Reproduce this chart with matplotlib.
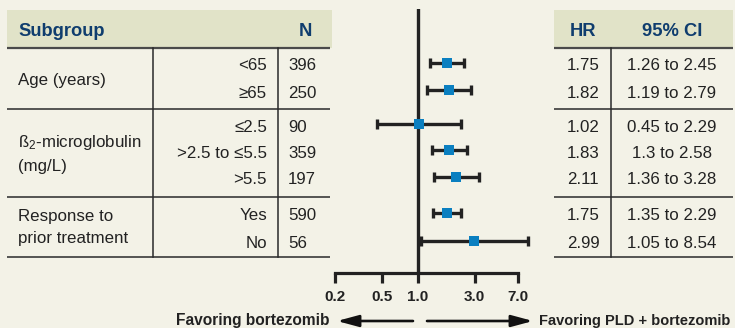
import matplotlib
matplotlib.use("Agg")
import matplotlib.pyplot as plt
import numpy as np

# ---- data ----
groups = ["Age (years)", "ß$_2$-microglobulin\n(mg/L)", "Response to\nprior treatment"]
subgroups = ["<65", "≥65", "≤2.5", ">2.5 to ≤5.5", ">5.5", "Yes", "No"]
n_vals = [396, 250, 90, 359, 197, 590, 56]
hr = [1.75, 1.82, 1.02, 1.83, 2.11, 1.75, 2.99]
ci_low = [1.26, 1.19, 0.45, 1.30, 1.36, 1.35, 1.05]
ci_high = [2.45, 2.79, 2.29, 2.58, 3.28, 2.29, 8.54]
ci_text = ["1.26 to 2.45", "1.19 to 2.79", "0.45 to 2.29", "1.3 to 2.58",
           "1.36 to 3.28", "1.35 to 2.29", "1.05 to 8.54"]
xticks = [0.2, 0.5, 1.0, 3.0, 7.0]
xtick_labels = ["0.2", "0.5", "1.0", "3.0", "7.0"]
left_label = "Favoring bortezomib"
right_label = "Favoring PLD + bortezomib"

# ---- layout (pixels) ----
W, H = 735, 328
row_y = [63, 90, 124, 150, 177, 213, 241]
group_y = [[81], [143, 166], [217, 239]]
BG = "#f3f2e7"
BAND = "#e1e3c8"
NAVY = "#0f3d6e"
TXT = "#222222"
FONT = "Liberation Sans"

plt.rcParams["font.family"] = [FONT, "DejaVu Sans"]
plt.rcParams["mathtext.fontset"] = "custom"
plt.rcParams["mathtext.rm"] = FONT
plt.rcParams["mathtext.it"] = FONT

fig = plt.figure(figsize=(W / 100, H / 100), dpi=100, facecolor=BG)

# full-figure axes for table
tab = fig.add_axes([0, 0, 1, 1])
tab.set_xlim(0, W)
tab.set_ylim(H, 0)
tab.axis("off")
tab.set_facecolor(BG)

fs = 12.2
# header bands
tab.add_patch(plt.Rectangle((7, 10), 325, 38, color=BAND, lw=0))
tab.add_patch(plt.Rectangle((554, 10), 733 - 554, 38, color=BAND, lw=0))
for x0, x1 in [(7, 330), (554, 733)]:
    tab.plot([x0, x1], [48, 48], color="#4a4a4a", lw=1.6, solid_capstyle="butt")
    for yy in [109, 197, 257]:
        tab.plot([x0, x1], [yy, yy], color="#2a2a2a", lw=1.1, solid_capstyle="butt")
for xx in [153, 278]:
    tab.plot([xx, xx], [48, 257], color="#2a2a2a", lw=1.1)
tab.plot([611, 611], [48, 257], color="#2a2a2a", lw=1.1)

hfs = 13.2
tab.text(18, 31, "Subgroup", color=NAVY, fontsize=hfs, fontweight="bold", va="center", ha="left")
tab.text(305, 31, "N", color=NAVY, fontsize=hfs, fontweight="bold", va="center", ha="center")
tab.text(583, 31, "HR", color=NAVY, fontsize=hfs, fontweight="bold", va="center", ha="center")
tab.text(672, 31, "95% CI", color=NAVY, fontsize=hfs, fontweight="bold", va="center", ha="center")

for gi, g in enumerate(groups):
    lines = g.split("\n")
    for li, ln in enumerate(lines):
        tab.text(18, group_y[gi][li], ln, fontsize=fs, color=TXT, va="center", ha="left")

for i in range(len(subgroups)):
    ty = row_y[i] + 3
    tab.text(267, ty, subgroups[i], fontsize=fs, color=TXT, va="center", ha="right")
    tab.text(288, ty, str(n_vals[i]), fontsize=fs, color=TXT, va="center", ha="left")
    tab.text(583, ty, f"{hr[i]:.2f}", fontsize=fs, color=TXT, va="center", ha="center")
    tab.text(672, ty, ci_text[i], fontsize=fs, color=TXT, va="center", ha="center")

# forest axes
x_left_px, x_right_px, one_px, scale = 330, 540, 418, 51.5
top_px, bot_px = 9, 273
ax = fig.add_axes([x_left_px / W, 1 - bot_px / H, (x_right_px - x_left_px) / W, (bot_px - top_px) / H])
ax.patch.set_alpha(0)
ax.set_xscale("log")
ax.set_xlim(np.exp(-(one_px - x_left_px) / scale), np.exp((x_right_px - one_px) / scale))
ax.set_ylim(bot_px, top_px)
for s in ["top", "left", "right"]:
    ax.spines[s].set_visible(False)
ax.spines["bottom"].set_bounds(xticks[0], xticks[-1])
ax.spines["bottom"].set_linewidth(2.3)
ax.spines["bottom"].set_color("#222222")
ax.set_xticks(xticks)
ax.set_xticklabels(xtick_labels, fontsize=11, fontweight="bold", color="#222222")
ax.xaxis.set_minor_locator(matplotlib.ticker.NullLocator())
ax.tick_params(axis="x", direction="out", length=7, width=2.3, color="#222222", pad=5)
ax.set_yticks([])
ax.axvline(1.0, color="#222222", lw=2.4, zorder=2)

ax.errorbar(hr, row_y, xerr=[np.array(hr) - np.array(ci_low), np.array(ci_high) - np.array(hr)],
            fmt="none", ecolor="#222222", elinewidth=2.4, capsize=3.5, capthick=2.4, zorder=3)
ax.scatter(hr, row_y, marker="s", s=44, color="#0a7fc0", zorder=4, linewidths=0)

# arrows and labels
arrow_y = 321
def arr(x0, x1):
    tab.annotate("", xy=(x1, arrow_y), xytext=(x0, arrow_y),
                 arrowprops=dict(arrowstyle="-|>,head_length=1.3,head_width=0.35",
                                 color="#111111", lw=1.9, shrinkA=0, shrinkB=0))
arr(413, 337)
arr(427, 533)
tab.text(330, arrow_y, left_label, fontsize=11.2, fontweight="bold", color="#222222", ha="right", va="center")
tab.text(539, arrow_y, right_label, fontsize=10.5, fontweight="bold", color="#222222", ha="left", va="center")

fig.savefig("out.png", dpi=100, facecolor=BG)
